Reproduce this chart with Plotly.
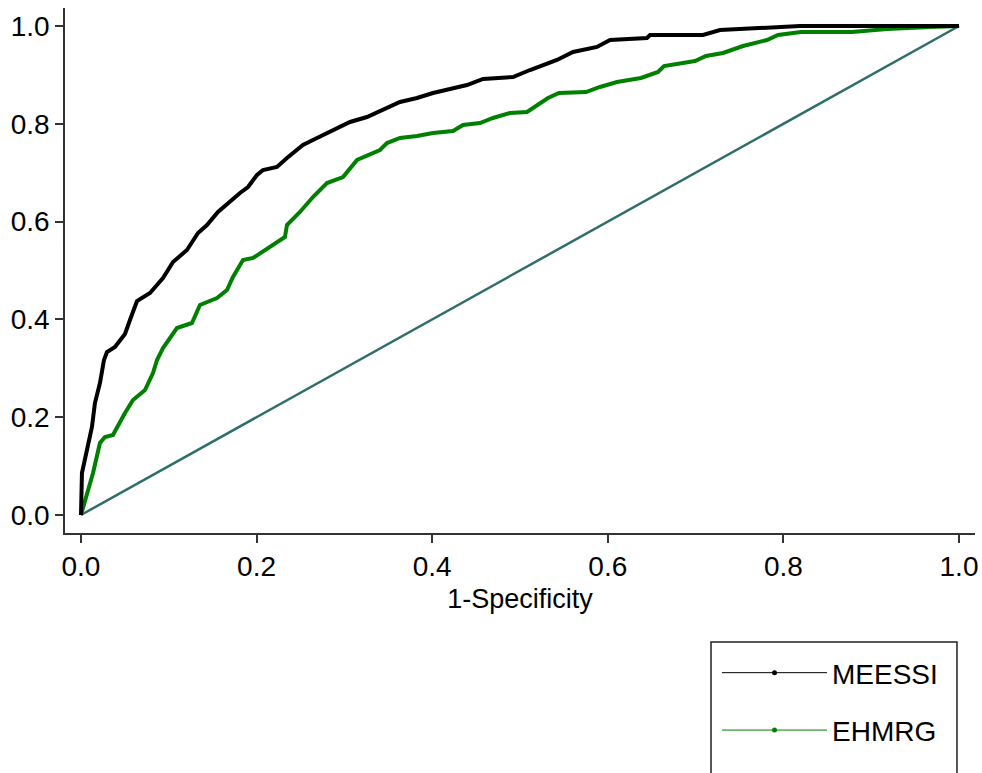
import plotly.graph_objects as go

# MEESSI ROC curve (1-specificity, sensitivity)
meessi_fpr = [0.0, 0.0011, 0.0068, 0.0125, 0.0159, 0.0216, 0.0262, 0.0296, 0.0387, 0.0501,
              0.0558, 0.0638, 0.0786, 0.0934, 0.1048, 0.1207, 0.1333, 0.1435, 0.1560, 0.1674,
              0.1811, 0.1902, 0.2005, 0.2073, 0.2232, 0.2346, 0.2437, 0.2528, 0.2642, 0.2870,
              0.3064, 0.3257, 0.3440, 0.3633, 0.3827, 0.4009, 0.4203, 0.4396, 0.4579, 0.4920,
              0.5114, 0.5262, 0.5421, 0.5604, 0.5877, 0.6025, 0.6446, 0.6481, 0.7084, 0.7278,
              0.7768, 0.8189, 1.0]
meessi_tpr = [0.0, 0.0859, 0.1329, 0.1800, 0.2290, 0.2699, 0.3170, 0.3333, 0.3436, 0.3701,
              0.3988, 0.4376, 0.4540, 0.4847, 0.5174, 0.5419, 0.5767, 0.5930, 0.6196, 0.6380,
              0.6585, 0.6708, 0.6953, 0.7055, 0.7117, 0.7301, 0.7423, 0.7566, 0.7669, 0.7873,
              0.8037, 0.8139, 0.8282, 0.8446, 0.8528, 0.8630, 0.8712, 0.8793, 0.8916, 0.8957,
              0.9100, 0.9202, 0.9305, 0.9468, 0.9571, 0.9714, 0.9755, 0.9816, 0.9816, 0.9918,
              0.9959, 1.0, 1.0]

# EHMRG ROC curve
ehmrg_fpr = [0.0, 0.0068, 0.0137, 0.0216, 0.0273, 0.0364, 0.0421, 0.0501, 0.0592, 0.0729,
             0.0820, 0.0866, 0.0934, 0.1093, 0.1264, 0.1355, 0.1549, 0.1663, 0.1731, 0.1845,
             0.1959, 0.2153, 0.2323, 0.2346, 0.2494, 0.2642, 0.2802, 0.2984, 0.3144, 0.3405,
             0.3485, 0.3633, 0.3827, 0.4009, 0.4237, 0.4351, 0.4544, 0.4692, 0.4886, 0.5080,
             0.5319, 0.5444, 0.5752, 0.5911, 0.6105, 0.6378, 0.6572, 0.6640, 0.6993, 0.7118,
             0.7312, 0.7540, 0.7813, 0.7938, 0.8200, 0.8781, 0.9180, 0.9670, 1.0]
ehmrg_tpr = [0.0, 0.0450, 0.0859, 0.1472, 0.1595, 0.1636, 0.1840, 0.2086, 0.2352, 0.2556,
             0.2904, 0.3170, 0.3415, 0.3824, 0.3926, 0.4294, 0.4438, 0.4601, 0.4867, 0.5215,
             0.5256, 0.5481, 0.5685, 0.5930, 0.6196, 0.6503, 0.6789, 0.6912, 0.7260, 0.7464,
             0.7607, 0.7710, 0.7751, 0.7812, 0.7853, 0.7975, 0.8016, 0.8119, 0.8221, 0.8241,
             0.8528, 0.8630, 0.8650, 0.8753, 0.8855, 0.8937, 0.9059, 0.9182, 0.9284, 0.9387,
             0.9448, 0.9591, 0.9714, 0.9816, 0.9877, 0.9877, 0.9939, 0.9980, 1.0]

# Reference (chance) line
ref_x = [0.0, 1.0]
ref_y = [0.0, 1.0]

tick_vals = [0.0, 0.2, 0.4, 0.6, 0.8, 1.0]
tick_text = ["0.0", "0.2", "0.4", "0.6", "0.8", "1.0"]

series_names = ["MEESSI", "EHMRG"]

FONT = "Liberation Sans, Arial, sans-serif"

fig = go.Figure()

fig.add_trace(go.Scatter(x=ref_x, y=ref_y, mode="lines",
                         line=dict(color="#2f6e69", width=2.5),
                         showlegend=False, hoverinfo="skip"))
fig.add_trace(go.Scatter(x=ehmrg_fpr, y=ehmrg_tpr, mode="lines",
                         line=dict(color="#008000", width=4),
                         showlegend=False))
fig.add_trace(go.Scatter(x=meessi_fpr, y=meessi_tpr, mode="lines",
                         line=dict(color="#000000", width=4),
                         showlegend=False))

# legend-only entries (thin line with dot)
fig.add_trace(go.Scatter(x=[None], y=[None], mode="lines+markers", name=series_names[0],
                         line=dict(color="#000000", width=1),
                         marker=dict(color="#000000", size=5),
                         legendgroup="a"))
fig.add_trace(go.Scatter(x=[None], y=[None], mode="lines+markers", name=series_names[1],
                         line=dict(color="#008000", width=1),
                         marker=dict(color="#008000", size=5),
                         legendgroup="b"))

fig.update_layout(
    width=982, height=773,
    margin=dict(l=65, r=7, t=8, b=240, autoexpand=False),
    paper_bgcolor="white", plot_bgcolor="white",
    font=dict(family=FONT, color="black", size=28),
    xaxis=dict(range=[-0.0182, 1.0182], tickvals=tick_vals, ticktext=tick_text,
               automargin=False,
               showgrid=False, zeroline=False, showline=True, linecolor="#333333",
               linewidth=1.5, ticks="outside", ticklen=8, tickwidth=1.5, tickcolor="#333333",
               tickfont=dict(size=28),
               title=dict(text="1-Specificity", font=dict(size=27), standoff=8)),
    yaxis=dict(range=[-0.0368, 1.0368], tickvals=tick_vals, ticktext=tick_text,
               automargin=False,
               showgrid=False, zeroline=False, showline=True, linecolor="#333333",
               linewidth=1.5, ticks="outside", ticklen=8, tickwidth=1.5, tickcolor="#333333",
               tickfont=dict(size=28)),
    legend=dict(x=0.7165, y=-0.219, xanchor="left", yanchor="top",
                bgcolor="rgba(0,0,0,0)", borderwidth=0,
                font=dict(size=28), itemwidth=105, tracegroupgap=18,
                traceorder="grouped"),
    shapes=[dict(type="rect", xref="paper", yref="paper",
                 x0=0.7099, x1=0.9802, y0=-0.50, y1=-0.2076,
                 line=dict(color="#222222", width=1.5), fillcolor="rgba(0,0,0,0)")],
)

fig.write_html("out.html")
